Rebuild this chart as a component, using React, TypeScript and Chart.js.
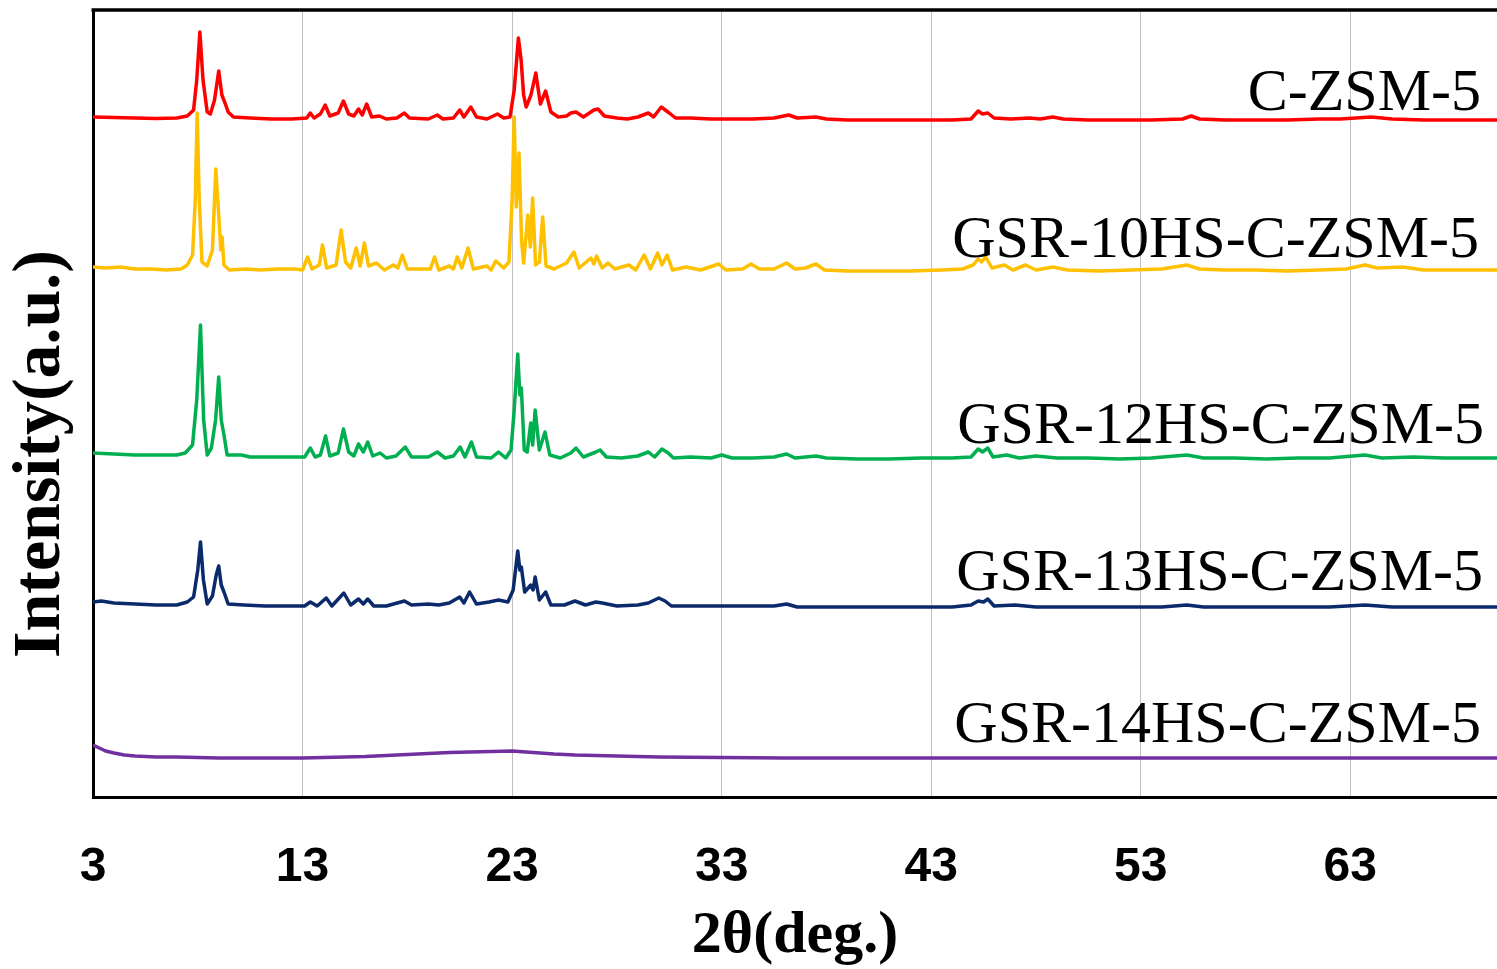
import React, { useEffect, useRef } from 'react';
import { Chart, registerables } from 'chart.js';

Chart.register(...registerables);

// ---- axis values ----
const X_TICKS = [3, 13, 23, 33, 43, 53, 63];
const X_MIN = 3;
const X_MAX = 70;
const Y_MIN = 0;
const Y_MAX = 787;

// ---- series: [2θ (deg.), intensity (a.u., stacked)] ----
const C_ZSM5: [number, number][] = [
  [3.0,680],[4.0,679.5],[5.0,679],[6.0,678.5],[7.0,679],[7.5,681],[7.8,687],[7.95,717],[8.1,765],[8.25,717],[8.45,685],[8.6,683],[8.8,697],[9.0,726],[9.15,702],[9.3,694],[9.45,685],[9.7,680],[10.5,679],[11.5,678],[12.5,678],[13.2,679],[13.37,684],[13.55,679],[13.85,683],[14.08,692],[14.3,681],[14.7,684],[14.95,696],[15.2,683],[15.45,681],[15.67,688],[15.85,682],[16.06,693],[16.3,680],[16.67,681],[17.0,678],[17.5,679],[17.86,684],[18.1,679],[19.0,678],[19.43,682],[19.7,678],[20.2,679],[20.5,687],[20.7,680],[21.03,690],[21.3,680],[21.8,678],[22.3,683],[22.6,679],[22.9,680],[23.1,707],[23.3,759],[23.43,737],[23.55,702],[23.67,690],[23.9,702],[24.13,724],[24.35,693],[24.6,706],[24.85,685],[25.2,680],[25.6,681],[25.8,684],[26.05,685],[26.4,680],[26.9,687],[27.1,688],[27.4,681],[28.0,679],[28.5,678],[29.0,680],[29.5,684],[29.75,680],[30.12,690],[30.5,684],[30.8,679],[31.5,679],[32.5,678],[33.5,678],[34.5,678],[35.5,679],[36.2,682],[36.6,679],[37.5,680],[38.0,678],[39.0,677],[40.0,677],[41.0,677],[42.0,677],[43.0,677],[44.0,677],[44.9,678],[45.24,686],[45.45,683],[45.7,684],[46.0,679],[46.8,678],[47.7,679],[48.2,678],[48.8,680],[49.3,678],[50.5,677],[52.0,677],[53.5,677],[55.0,678],[55.4,681],[55.8,678],[57.0,677],[58.5,677],[60.0,677],[61.5,678],[62.5,678],[64.0,680],[65.0,678],[66.5,677],[68.0,677],[70.0,677]
];

const GSR_10HS: [number, number][] = [
  [3.0,530],[3.6,529],[4.3,530],[5.0,528],[5.8,528],[6.5,527],[7.2,528],[7.5,532],[7.75,542],[7.88,597],[7.97,684],[8.07,597],[8.2,535],[8.45,531],[8.7,547],[8.86,628],[9.0,582],[9.1,547],[9.16,560],[9.25,532],[9.5,527],[10.3,528],[11.0,527],[11.8,528],[12.6,528],[13.0,527],[13.24,540],[13.45,528],[13.8,532],[13.95,552],[14.15,529],[14.6,532],[14.84,567],[15.05,535],[15.3,529],[15.56,549],[15.75,531],[15.95,554],[16.15,531],[16.53,534],[16.9,527],[17.33,532],[17.55,529],[17.76,542],[18.0,528],[18.6,528],[19.1,528],[19.3,540],[19.5,527],[20.0,531],[20.2,528],[20.38,540],[20.6,529],[20.9,549],[21.15,528],[21.8,531],[22.0,527],[22.22,536],[22.6,529],[22.85,535],[23.0,597],[23.1,680],[23.2,590],[23.33,644],[23.45,557],[23.55,534],[23.75,582],[23.87,550],[23.98,599],[24.12,532],[24.3,535],[24.46,580],[24.62,531],[25.0,528],[25.6,534],[25.95,545],[26.2,529],[26.76,539],[26.9,533],[27.03,541],[27.3,529],[27.57,534],[27.9,528],[28.57,532],[28.9,527],[29.3,542],[29.6,528],[29.95,544],[30.15,532],[30.4,542],[30.65,527],[31.3,530],[32.0,527],[32.86,533],[33.2,527],[34.0,528],[34.4,533],[34.8,528],[35.5,528],[36.1,534],[36.5,528],[37.0,529],[37.5,533],[37.9,527],[39.0,526],[40.5,526],[42.0,526],[43.5,527],[44.5,528],[45.0,532],[45.24,538],[45.4,535],[45.6,540],[45.9,529],[46.5,532],[46.9,527],[47.5,532],[48.0,527],[48.8,530],[49.5,527],[51.0,526],[52.5,527],[54.0,528],[55.2,532],[55.8,528],[57.0,527],[58.5,527],[60.0,526],[61.5,527],[62.8,528],[63.7,532],[64.3,529],[65.5,530],[66.5,527],[68.0,527],[70.0,527]
];

const GSR_12HS: [number, number][] = [
  [3.0,344],[4.0,343],[5.0,342],[6.0,342],[7.0,342],[7.4,344],[7.75,352],[7.95,397],[8.13,472],[8.28,377],[8.45,342],[8.65,349],[8.85,377],[9.0,420],[9.12,377],[9.25,362],[9.4,342],[10.08,342],[10.5,340],[11.5,340],[12.5,340],[13.1,340],[13.37,349],[13.6,340],[13.85,342],[14.1,361],[14.3,341],[14.7,344],[14.95,368],[15.2,345],[15.45,341],[15.67,353],[15.9,345],[16.11,355],[16.35,341],[16.7,344],[17.0,339],[17.46,341],[17.9,350],[18.2,340],[19.0,340],[19.43,345],[19.8,339],[20.2,341],[20.52,350],[20.75,340],[21.06,355],[21.3,340],[22.0,339],[22.35,345],[22.7,339],[22.95,347],[23.1,387],[23.27,443],[23.37,402],[23.44,409],[23.58,347],[23.72,345],[23.89,374],[23.98,352],[24.1,387],[24.3,347],[24.57,365],[24.8,342],[25.3,339],[25.8,344],[26.05,349],[26.4,340],[27.0,345],[27.2,347],[27.5,340],[28.2,339],[29.0,341],[29.5,345],[29.8,340],[30.15,348],[30.45,344],[30.7,339],[31.5,340],[32.5,339],[33.0,342],[33.5,339],[34.5,339],[35.5,340],[36.1,343],[36.5,339],[37.5,341],[38.0,339],[39.5,338],[41.0,338],[42.5,339],[44.0,339],[44.9,340],[45.24,348],[45.45,345],[45.7,349],[45.95,340],[46.6,342],[47.2,339],[48.0,341],[49.0,339],[50.5,339],[52.0,338],[53.5,339],[55.2,342],[56.0,339],[57.5,339],[59.0,338],[60.5,339],[62.0,339],[63.7,342],[64.5,339],[66.0,340],[67.5,339],[70.0,339]
];

const GSR_13HS: [number, number][] = [
  [3.0,195],[3.4,196],[4.0,194],[5.0,193],[6.0,192],[7.0,192],[7.5,195],[7.8,200],[8.0,227],[8.13,255],[8.27,217],[8.45,193],[8.7,201],[8.88,222],[9.0,231],[9.12,212],[9.25,205],[9.45,193],[10.2,192],[11.2,191],[12.2,191],[13.1,191],[13.37,195],[13.7,191],[14.13,199],[14.4,191],[14.97,204],[15.3,192],[15.67,198],[15.9,193],[16.11,198],[16.4,191],[17.0,191],[17.86,196],[18.2,192],[19.0,193],[19.5,192],[20.0,194],[20.5,200],[20.7,194],[20.97,205],[21.3,193],[21.9,195],[22.35,197],[22.8,195],[23.05,207],[23.27,246],[23.37,227],[23.44,230],[23.6,205],[23.89,212],[24.0,207],[24.1,220],[24.3,197],[24.6,205],[24.85,192],[25.5,192],[26.0,196],[26.5,192],[27.0,195],[27.3,194],[28.0,191],[29.0,192],[29.5,194],[30.0,199],[30.3,196],[30.6,191],[31.5,191],[33.0,191],[34.5,191],[35.5,191],[36.1,193],[36.6,190],[38.0,190],[39.5,190],[41.0,190],[42.5,190],[44.0,190],[44.9,192],[45.24,196],[45.5,195],[45.7,198],[46.0,191],[47.0,192],[48.0,190],[50.0,190],[52.0,190],[54.0,190],[55.2,192],[56.0,190],[58.0,190],[60.0,190],[62.0,190],[63.7,192],[65.0,190],[67.0,190],[70.0,190]
];

const GSR_14HS: [number, number][] = [
  [3.0,52],[3.3,49],[3.6,46],[4.0,44],[4.5,42],[5.0,41],[6.0,40],[7.0,40],[8.0,39.5],[9.0,39],[10.0,39],[11.0,39],[12.0,39],[13.0,39],[14.0,39.5],[15.0,40],[16.0,40.5],[17.0,41.5],[18.0,42.5],[19.0,43.5],[20.0,44.5],[21.0,45],[22.0,45.5],[23.0,46],[24.0,44.5],[25.0,43],[26.0,42],[27.0,41.5],[28.0,41],[30.0,40],[33.0,39.5],[36.0,39],[40.0,39],[45.0,39],[50.0,39],[55.0,39],[60.0,39],[65.0,39],[70.0,39]
];

const SERIES_NAMES = ['C-ZSM-5', 'GSR-10HS-C-ZSM-5', 'GSR-12HS-C-ZSM-5', 'GSR-13HS-C-ZSM-5', 'GSR-14HS-C-ZSM-5'];
const SERIES_COLORS = ['#ff0000', '#ffc000', '#00b050', '#0b2a6b', '#7030a0'];
// label anchors (right end, baseline) in data units
const LABEL_X = [69.24, 69.14, 69.38, 69.33, 69.24];
const LABEL_Y = [687, 540, 354, 207, 55];

const framePlugin = {
  id: 'frame',
  afterDraw(chart: any) {
    const { ctx, chartArea } = chart;
    ctx.save();
    ctx.strokeStyle = '#000';
    ctx.lineWidth = 3.5;
    ctx.beginPath();
    ctx.moveTo(chartArea.left - 1.5, chartArea.top);
    ctx.lineTo(chartArea.right + 2, chartArea.top);
    ctx.stroke();
    ctx.restore();
  },
};

const textPlugin = {
  id: 'seriesText',
  afterDatasetsDraw(chart: any) {
    const { ctx, scales } = chart;
    ctx.save();
    ctx.fillStyle = '#000';
    ctx.font = '60px "Liberation Serif"';
    ctx.textAlign = 'right';
    ctx.textBaseline = 'alphabetic';
    SERIES_NAMES.forEach((name, i) => {
      ctx.fillText(name, scales.x.getPixelForValue(LABEL_X[i]), scales.y.getPixelForValue(LABEL_Y[i]));
    });
    // y-axis title
    const midY = scales.y.getPixelForValue(343);
    ctx.translate(59, midY);
    ctx.rotate(-Math.PI / 2);
    ctx.font = 'bold 68px "Liberation Serif"';
    ctx.textAlign = 'center';
    ctx.textBaseline = 'alphabetic';
    ctx.fillText('Intensity(a.u.)', 0, 0);
    ctx.restore();
  },
};

export default function App() {
  const ref = useRef<HTMLCanvasElement>(null);
  useEffect(() => {
    document.body.style.margin = '0';
    const series = [C_ZSM5, GSR_10HS, GSR_12HS, GSR_13HS, GSR_14HS];
    const chart = new Chart(ref.current as HTMLCanvasElement, {
      type: 'line',
      data: {
        datasets: series.map((s, i) => ({
          label: SERIES_NAMES[i],
          data: s.map(([x, y]) => ({ x, y })),
          borderColor: SERIES_COLORS[i],
          backgroundColor: SERIES_COLORS[i],
          borderWidth: 3.5,
          borderJoinStyle: 'round',
          pointRadius: 0,
          tension: 0,
          fill: false,
        })),
      },
      options: {
        animation: false,
        responsive: false,
        layout: { padding: { top: 10, left: 0, right: 0, bottom: 0 } },
        plugins: { legend: { display: false }, tooltip: { enabled: false } },
        scales: {
          x: {
            type: 'linear',
            min: X_MIN,
            max: X_MAX,
            afterBuildTicks: (s: any) => {
              s.ticks = X_TICKS.map((v) => ({ value: v }));
            },
            afterFit: (s: any) => {
              s.height = 172;
            },
            grid: { color: '#c0c0c0', lineWidth: 1, drawTicks: false },
            border: { display: true, color: '#000', width: 3 },
            ticks: {
              font: { family: 'Liberation Sans', size: 48, weight: 'bold', lineHeight: 1 },
              color: '#000',
              padding: 47,
              maxRotation: 0,
              autoSkip: false,
            },
            title: {
              display: true,
              text: '2θ(deg.)',
              color: '#000',
              font: { family: 'Liberation Serif', size: 60, weight: 'bold', lineHeight: 1 },
              padding: { top: 0, bottom: 3 },
            },
          },
          y: {
            type: 'linear',
            min: Y_MIN,
            max: Y_MAX,
            afterFit: (s: any) => {
              s.width = 93;
            },
            ticks: { display: false },
            grid: { display: false, drawTicks: false },
            border: { display: true, color: '#000', width: 3 },
          },
        },
      } as any,
      plugins: [framePlugin, textPlugin],
    });
    return () => chart.destroy();
  }, []);
  return (
    <div style={{ position: 'absolute', left: 0, top: 0, width: 1497, height: 969, background: '#fff' }}>
      <canvas ref={ref} width={1497} height={969} style={{ display: 'block' }} />
    </div>
  );
}
